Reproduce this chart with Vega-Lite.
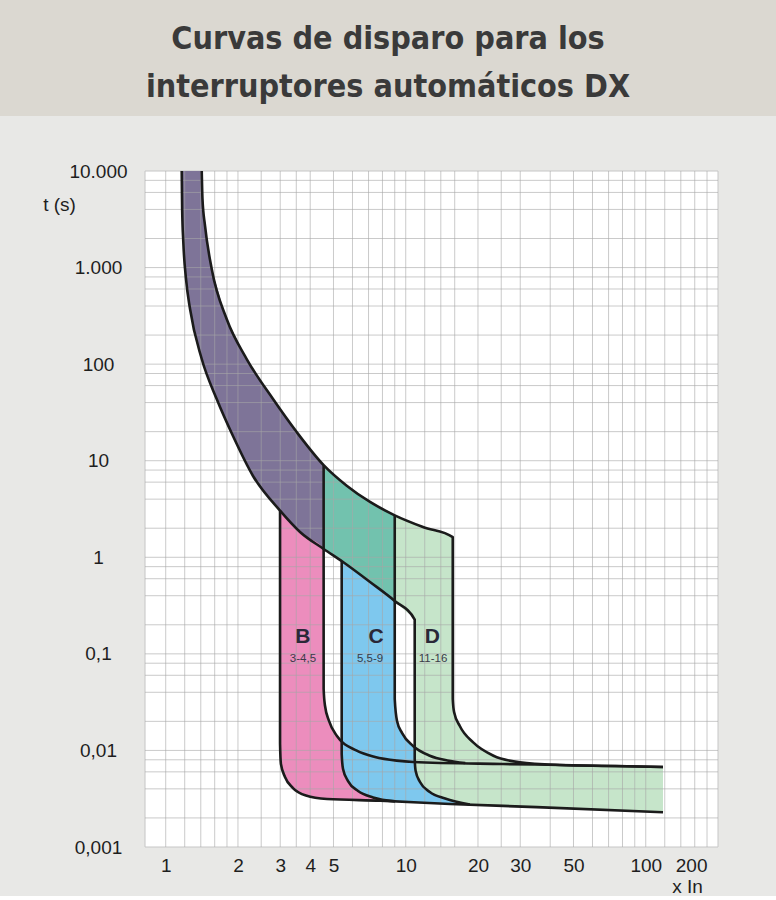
{
  "$schema": "https://vega.github.io/schema/vega-lite/v6.json",
  "background": "#e8e8e6",
  "padding": 0,
  "spacing": 46,
  "config": {"font": "Liberation Sans"},
  "datasets": {
    "title": [{"t": "Curvas de disparo para los\ninterruptores automáticos DX"}],
    "frame": [{"k": 1}],
    "purple": [
      {"x": 1.166, "top": 10000, "bot": 10000},
      {"x": 1.171, "top": 10000, "bot": 4043},
      {"x": 1.184, "top": 10000, "bot": 1841},
      {"x": 1.215, "top": 10000, "bot": 762},
      {"x": 1.263, "top": 10000, "bot": 372},
      {"x": 1.413, "top": 10000, "bot": 113},
      {"x": 1.423, "top": 5129, "bot": 108},
      {"x": 1.458, "top": 2716, "bot": 91.6},
      {"x": 1.555, "top": 966, "bot": 59.7},
      {"x": 1.631, "top": 649, "bot": 43.5},
      {"x": 1.795, "top": 293, "bot": 25.4},
      {"x": 1.907, "top": 217, "bot": 18.0},
      {"x": 2.175, "top": 113, "bot": 9.37},
      {"x": 2.311, "top": 89.9, "bot": 6.95},
      {"x": 2.8, "top": 43.5, "bot": 3.77},
      {"x": 2.995, "top": 34.5, "bot": 3.04},
      {"x": 3.514, "top": 19.8, "bot": 1.99},
      {"x": 3.627, "top": 18.0, "bot": 1.83},
      {"x": 4.55, "top": 9.0, "bot": 1.22}
    ],
    "teal": [
      {"x": 4.55, "top": 9.0, "bot": 1.22},
      {"x": 5.48, "top": 5.96, "bot": 0.894},
      {"x": 5.679, "top": 5.51, "bot": 0.837},
      {"x": 7.1, "top": 3.74, "bot": 0.555},
      {"x": 9.0, "top": 2.72, "bot": 0.353}
    ],
    "pink": [
      {"x": 2.995, "top": 3.04, "bot": 0.0117},
      {"x": 3.02, "top": 2.99, "bot": 0.00723},
      {"x": 3.14, "top": 2.69, "bot": 0.00531},
      {"x": 3.39, "top": 2.19, "bot": 0.00408},
      {"x": 3.627, "top": 1.83, "bot": 0.0037},
      {"x": 3.84, "top": 1.65, "bot": 0.00341},
      {"x": 4.55, "top": 1.22, "bot": 0.00318},
      {"x": 4.5501, "top": 0.0432, "bot": 0.00318},
      {"x": 4.61, "top": 0.029, "bot": 0.00317},
      {"x": 4.7, "top": 0.0241, "bot": 0.00314},
      {"x": 4.79, "top": 0.0202, "bot": 0.00313},
      {"x": 5.16, "top": 0.0142, "bot": 0.00311},
      {"x": 6.25, "top": 0.00993, "bot": 0.00306},
      {"x": 7.45, "top": 0.00855, "bot": 0.00301},
      {"x": 9.17, "top": 0.00784, "bot": 0.00296}
    ],
    "blue": [
      {"x": 5.41, "top": 0.91, "bot": 0.00919},
      {"x": 5.48, "top": 0.894, "bot": 0.00642},
      {"x": 5.75, "top": 0.818, "bot": 0.00482},
      {"x": 6.33, "top": 0.686, "bot": 0.0038},
      {"x": 7.1, "top": 0.555, "bot": 0.00336},
      {"x": 7.31, "top": 0.525, "bot": 0.00326},
      {"x": 9.0, "top": 0.353, "bot": 0.00297},
      {"x": 9.0001, "top": 0.0341, "bot": 0.00297},
      {"x": 9.2, "top": 0.0202, "bot": 0.00296},
      {"x": 9.66, "top": 0.0151, "bot": 0.00294},
      {"x": 10.73, "top": 0.0111, "bot": 0.00291},
      {"x": 12.6, "top": 0.00881, "bot": 0.00285},
      {"x": 14.9, "top": 0.00787, "bot": 0.0028},
      {"x": 17.7, "top": 0.0074, "bot": 0.00275}
    ],
    "green": [
      {"x": 9.0, "top": 2.72, "bot": 0.353},
      {"x": 10.0, "top": 2.44, "bot": 0.276},
      {"x": 10.9, "top": 2.24, "bot": 0.226},
      {"x": 10.9001, "top": 2.24, "bot": 0.00815},
      {"x": 11.0, "top": 2.21, "bot": 0.00612},
      {"x": 11.47, "top": 2.12, "bot": 0.00471},
      {"x": 11.8, "top": 2.06, "bot": 0.00438},
      {"x": 12.6, "top": 1.95, "bot": 0.00371},
      {"x": 14.6, "top": 1.72, "bot": 0.00318},
      {"x": 15.7, "top": 1.62, "bot": 0.00305},
      {"x": 15.7001, "top": 0.0341, "bot": 0.00305},
      {"x": 15.9, "top": 0.025, "bot": 0.00302},
      {"x": 16.8, "top": 0.0179, "bot": 0.00292},
      {"x": 18.5, "top": 0.0133, "bot": 0.00276},
      {"x": 19.1, "top": 0.0121, "bot": 0.00274},
      {"x": 23.2, "top": 0.00881, "bot": 0.00269},
      {"x": 29.9, "top": 0.00753, "bot": 0.00263},
      {"x": 35.1, "top": 0.00734, "bot": 0.00259},
      {"x": 43.9, "top": 0.00707, "bot": 0.00252},
      {"x": 70, "top": 0.00691, "bot": 0.00241},
      {"x": 118, "top": 0.00674, "bot": 0.00229}
    ],
    "gx": [
      {"v": 1}, {"v": 1.2}, {"v": 1.4}, {"v": 1.6}, {"v": 1.8}, {"v": 2}, {"v": 2.5}, {"v": 3}, {"v": 3.5}, {"v": 4},
      {"v": 5}, {"v": 6}, {"v": 7}, {"v": 8}, {"v": 9}, {"v": 10}, {"v": 12}, {"v": 14}, {"v": 16}, {"v": 20},
      {"v": 25}, {"v": 30}, {"v": 40}, {"v": 50}, {"v": 60}, {"v": 70}, {"v": 80}, {"v": 90}, {"v": 100},
      {"v": 120}, {"v": 140}, {"v": 160}, {"v": 180}
    ],
    "gy": [
      {"v": 0.002}, {"v": 0.004}, {"v": 0.006}, {"v": 0.008},
      {"v": 0.01}, {"v": 0.02}, {"v": 0.04}, {"v": 0.06}, {"v": 0.08},
      {"v": 0.1}, {"v": 0.2}, {"v": 0.4}, {"v": 0.6}, {"v": 0.8},
      {"v": 1}, {"v": 2}, {"v": 4}, {"v": 6}, {"v": 8},
      {"v": 10}, {"v": 20}, {"v": 40}, {"v": 60}, {"v": 80},
      {"v": 100}, {"v": 200}, {"v": 400}, {"v": 600}, {"v": 800},
      {"v": 1000}, {"v": 2000}, {"v": 4000}, {"v": 6000}, {"v": 8000}
    ],
    "lines": [
      {"id": "U", "i": 0, "x": 1.413, "y": 10000},
      {"id": "U", "i": 1, "x": 1.423, "y": 5129},
      {"id": "U", "i": 2, "x": 1.458, "y": 2716},
      {"id": "U", "i": 3, "x": 1.555, "y": 966},
      {"id": "U", "i": 4, "x": 1.795, "y": 293},
      {"id": "U", "i": 5, "x": 2.175, "y": 113},
      {"id": "U", "i": 6, "x": 2.8, "y": 43.5},
      {"id": "U", "i": 7, "x": 3.514, "y": 19.8},
      {"id": "U", "i": 8, "x": 4.55, "y": 9.0},
      {"id": "U", "i": 9, "x": 5.679, "y": 5.51},
      {"id": "U", "i": 10, "x": 7.1, "y": 3.74},
      {"id": "U", "i": 11, "x": 9.0, "y": 2.72},
      {"id": "U", "i": 12, "x": 11.8, "y": 2.06},
      {"id": "U", "i": 13, "x": 15.7, "y": 1.62},
      {"id": "U", "i": 14, "x": 15.7001, "y": 0.0341},
      {"id": "U", "i": 15, "x": 15.9, "y": 0.025},
      {"id": "U", "i": 16, "x": 16.8, "y": 0.0179},
      {"id": "U", "i": 17, "x": 19.1, "y": 0.0121},
      {"id": "U", "i": 18, "x": 23.2, "y": 0.00881},
      {"id": "U", "i": 19, "x": 29.9, "y": 0.00753},
      {"id": "U", "i": 20, "x": 43.9, "y": 0.00707},
      {"id": "U", "i": 21, "x": 70, "y": 0.00691},
      {"id": "U", "i": 22, "x": 118, "y": 0.00674},
      {"id": "L", "i": 0, "x": 1.166, "y": 10000},
      {"id": "L", "i": 1, "x": 1.171, "y": 4043},
      {"id": "L", "i": 2, "x": 1.184, "y": 1841},
      {"id": "L", "i": 3, "x": 1.215, "y": 762},
      {"id": "L", "i": 4, "x": 1.263, "y": 372},
      {"id": "L", "i": 5, "x": 1.413, "y": 113},
      {"id": "L", "i": 6, "x": 1.631, "y": 43.5},
      {"id": "L", "i": 7, "x": 1.907, "y": 18.0},
      {"id": "L", "i": 8, "x": 2.311, "y": 6.95},
      {"id": "L", "i": 9, "x": 2.995, "y": 3.04},
      {"id": "L", "i": 10, "x": 3.627, "y": 1.83},
      {"id": "L", "i": 11, "x": 4.55, "y": 1.22},
      {"id": "L", "i": 12, "x": 5.48, "y": 0.894},
      {"id": "L", "i": 13, "x": 7.1, "y": 0.555},
      {"id": "L", "i": 14, "x": 9.0, "y": 0.353},
      {"id": "L", "i": 15, "x": 10.9, "y": 0.226},
      {"id": "L", "i": 16, "x": 10.9001, "y": 0.00815},
      {"id": "L", "i": 17, "x": 11.0, "y": 0.00612},
      {"id": "L", "i": 18, "x": 11.47, "y": 0.00471},
      {"id": "L", "i": 19, "x": 12.6, "y": 0.00371},
      {"id": "L", "i": 20, "x": 14.6, "y": 0.00318},
      {"id": "L", "i": 21, "x": 18.5, "y": 0.00276},
      {"id": "BL", "i": 0, "x": 2.995, "y": 3.04},
      {"id": "BL", "i": 1, "x": 2.9951, "y": 0.0117},
      {"id": "BL", "i": 2, "x": 3.02, "y": 0.00723},
      {"id": "BL", "i": 3, "x": 3.14, "y": 0.00531},
      {"id": "BL", "i": 4, "x": 3.39, "y": 0.00408},
      {"id": "BL", "i": 5, "x": 3.84, "y": 0.00341},
      {"id": "BL", "i": 6, "x": 4.7, "y": 0.00314},
      {"id": "BL", "i": 7, "x": 7.82, "y": 0.00302},
      {"id": "BL", "i": 8, "x": 15.3, "y": 0.00279},
      {"id": "BL", "i": 9, "x": 35.1, "y": 0.00259},
      {"id": "BL", "i": 10, "x": 118, "y": 0.00229},
      {"id": "BR", "i": 0, "x": 4.55, "y": 9.0},
      {"id": "BR", "i": 1, "x": 4.5501, "y": 0.0432},
      {"id": "BR", "i": 2, "x": 4.61, "y": 0.029},
      {"id": "BR", "i": 3, "x": 4.79, "y": 0.0202},
      {"id": "BR", "i": 4, "x": 5.16, "y": 0.0142},
      {"id": "BR", "i": 5, "x": 6.25, "y": 0.00993},
      {"id": "BR", "i": 6, "x": 7.45, "y": 0.00855},
      {"id": "BR", "i": 7, "x": 9.17, "y": 0.00784},
      {"id": "BR", "i": 8, "x": 10.73, "y": 0.00759},
      {"id": "BR", "i": 9, "x": 25.4, "y": 0.00723},
      {"id": "BR", "i": 10, "x": 43.9, "y": 0.00707},
      {"id": "BR", "i": 11, "x": 118, "y": 0.00674},
      {"id": "CL", "i": 0, "x": 5.41, "y": 0.91},
      {"id": "CL", "i": 1, "x": 5.4101, "y": 0.00919},
      {"id": "CL", "i": 2, "x": 5.48, "y": 0.00642},
      {"id": "CL", "i": 3, "x": 5.75, "y": 0.00482},
      {"id": "CL", "i": 4, "x": 6.33, "y": 0.0038},
      {"id": "CL", "i": 5, "x": 7.31, "y": 0.00326},
      {"id": "CL", "i": 6, "x": 9.02, "y": 0.00297},
      {"id": "CR", "i": 0, "x": 9.0, "y": 2.72},
      {"id": "CR", "i": 1, "x": 9.0001, "y": 0.0341},
      {"id": "CR", "i": 2, "x": 9.2, "y": 0.0202},
      {"id": "CR", "i": 3, "x": 9.66, "y": 0.0151},
      {"id": "CR", "i": 4, "x": 10.73, "y": 0.0111},
      {"id": "CR", "i": 5, "x": 12.6, "y": 0.00881},
      {"id": "CR", "i": 6, "x": 14.9, "y": 0.00787},
      {"id": "CR", "i": 7, "x": 17.7, "y": 0.0074}
    ],
    "big": [
      {"x": 3.73, "y": 0.148, "t": "B"},
      {"x": 7.52, "y": 0.148, "t": "C"},
      {"x": 12.9, "y": 0.148, "t": "D"}
    ],
    "small": [
      {"x": 3.73, "y": 0.0885, "t": "3-4,5"},
      {"x": 7.1, "y": 0.0885, "t": "5,5-9"},
      {"x": 13.0, "y": 0.0885, "t": "11-16"}
    ]
  },
  "vconcat": [
    {
      "width": 776,
      "height": 116,
      "view": {"fill": "#dbd8d1", "stroke": null},
      "data": {"name": "title"},
      "mark": {
        "type": "text",
        "lineBreak": "\n",
        "lineHeight": 48,
        "fontSize": 32,
        "dy": -19,
        "font": "Liberation Sans Narrow, DejaVu Sans Condensed, Roboto, sans-serif",
        "fontWeight": "bold",
        "color": "#3a3a3a",
        "align": "center",
        "baseline": "middle"
      },
      "encoding": {"text": {"field": "t"}}
    },
    {
      "width": 718,
      "height": 676,
      "view": {"fill": null, "stroke": null},
      "layer": [
        {
          "data": {"name": "frame"},
          "mark": {"type": "rect", "fill": "#ffffff", "stroke": "#c6c6c6", "strokeWidth": 1},
          "encoding": {
            "x": {"datum": 0.82, "type": "quantitative", "scale": {"type": "log", "domain": [0.204, 200], "nice": false}},
            "x2": {"datum": 200},
            "y": {"datum": 0.001, "type": "quantitative", "scale": {"type": "log", "domain": [0.001, 10000], "nice": false}},
            "y2": {"datum": 10000}
          }
        },
        {
          "data": {"name": "purple"},
          "mark": {"type": "area", "color": "#7e7498", "interpolate": "monotone", "clip": true},
          "encoding": {
            "x": {
              "field": "x", "type": "quantitative",
              "scale": {"type": "log", "domain": [0.204, 200], "nice": false},
              "axis": {
                "values": [1, 2, 3, 4, 5, 10, 20, 30, 50, 100, 200],
                "labelExpr": "'' + datum.value",
                "grid": false, "ticks": false, "domain": false,
                "labelFont": "Liberation Sans", "labelFontSize": 19, "labelColor": "#1e1e1e",
                "labelPadding": 9, "labelOverlap": false, "labelFlush": true, "labelFlushOffset": -11,
                "title": "x In", "titleFont": "Liberation Sans", "titleFontSize": 19, "titleFontWeight": "normal",
                "titleColor": "#1e1e1e", "titleX": 687, "titleY": 39, "titleAlign": "center", "titleBaseline": "middle"
              }
            },
            "y": {
              "field": "top", "type": "quantitative",
              "scale": {"type": "log", "domain": [0.001, 10000], "nice": false},
              "axis": {
                "values": [0.001, 0.01, 0.1, 1, 10, 100, 1000, 10000],
                "labelExpr": "datum.value >= 9999 ? '10.000' : datum.value >= 999 ? '1.000' : datum.value >= 99 ? '100' : datum.value >= 9 ? '10' : datum.value >= 0.9 ? '1' : datum.value >= 0.09 ? '0,1' : datum.value >= 0.009 ? '0,01' : '0,001'",
                "grid": false, "ticks": false, "domain": false, "offset": -145,
                "labelFont": "Liberation Sans", "labelFontSize": 19, "labelColor": "#1e1e1e",
                "labelAlign": "center", "labelBaseline": "middle", "labelPadding": 47, "labelOverlap": false,
                "title": "t (s)", "titleFont": "Liberation Sans", "titleFontSize": 19, "titleFontWeight": "normal",
                "titleColor": "#1e1e1e", "titleAngle": 0, "titleX": -86, "titleY": 33, "titleAlign": "center", "titleBaseline": "middle"
              }
            },
            "y2": {"field": "bot"}
          }
        },
        {
          "data": {"name": "teal"},
          "mark": {"type": "area", "color": "#72c2ae", "interpolate": "monotone", "clip": true},
          "encoding": {
            "x": {"field": "x", "type": "quantitative", "scale": {"type": "log", "domain": [0.204, 200], "nice": false}},
            "y": {"field": "top", "type": "quantitative", "scale": {"type": "log", "domain": [0.001, 10000], "nice": false}},
            "y2": {"field": "bot"}
          }
        },
        {
          "data": {"name": "pink"},
          "mark": {"type": "area", "color": "#ec8dbd", "interpolate": "monotone", "clip": true},
          "encoding": {
            "x": {"field": "x", "type": "quantitative", "scale": {"type": "log", "domain": [0.204, 200], "nice": false}},
            "y": {"field": "top", "type": "quantitative", "scale": {"type": "log", "domain": [0.001, 10000], "nice": false}},
            "y2": {"field": "bot"}
          }
        },
        {
          "data": {"name": "blue"},
          "mark": {"type": "area", "color": "#7ec8ee", "interpolate": "monotone", "clip": true},
          "encoding": {
            "x": {"field": "x", "type": "quantitative", "scale": {"type": "log", "domain": [0.204, 200], "nice": false}},
            "y": {"field": "top", "type": "quantitative", "scale": {"type": "log", "domain": [0.001, 10000], "nice": false}},
            "y2": {"field": "bot"}
          }
        },
        {
          "data": {"name": "green"},
          "mark": {"type": "area", "color": "#c6e5ca", "interpolate": "monotone", "clip": true},
          "encoding": {
            "x": {"field": "x", "type": "quantitative", "scale": {"type": "log", "domain": [0.204, 200], "nice": false}},
            "y": {"field": "top", "type": "quantitative", "scale": {"type": "log", "domain": [0.001, 10000], "nice": false}},
            "y2": {"field": "bot"}
          }
        },
        {
          "data": {"name": "gx"},
          "mark": {"type": "rule", "color": "#a6a6a6", "opacity": 0.6, "strokeWidth": 1},
          "encoding": {
            "x": {"field": "v", "type": "quantitative", "scale": {"type": "log", "domain": [0.204, 200], "nice": false}}
          }
        },
        {
          "data": {"name": "gy"},
          "mark": {"type": "rule", "color": "#a6a6a6", "opacity": 0.6, "strokeWidth": 1},
          "encoding": {
            "y": {"field": "v", "type": "quantitative", "scale": {"type": "log", "domain": [0.001, 10000], "nice": false}},
            "x": {"datum": 0.82, "type": "quantitative", "scale": {"type": "log", "domain": [0.204, 200], "nice": false}},
            "x2": {"datum": 200}
          }
        },
        {
          "data": {"name": "lines"},
          "mark": {"type": "line", "color": "#1b1b1b", "strokeWidth": 2.6, "strokeJoin": "round", "interpolate": "monotone", "clip": true},
          "encoding": {
            "x": {"field": "x", "type": "quantitative", "scale": {"type": "log", "domain": [0.204, 200], "nice": false}},
            "y": {"field": "y", "type": "quantitative", "scale": {"type": "log", "domain": [0.001, 10000], "nice": false}},
            "detail": {"field": "id"},
            "order": {"field": "i", "type": "quantitative"}
          }
        },
        {
          "data": {"name": "big"},
          "mark": {"type": "text", "font": "Liberation Sans", "fontSize": 21, "fontWeight": "bold", "color": "#2a2838", "baseline": "middle"},
          "encoding": {
            "x": {"field": "x", "type": "quantitative", "scale": {"type": "log", "domain": [0.204, 200], "nice": false}},
            "y": {"field": "y", "type": "quantitative", "scale": {"type": "log", "domain": [0.001, 10000], "nice": false}},
            "text": {"field": "t"}
          }
        },
        {
          "data": {"name": "small"},
          "mark": {"type": "text", "font": "Liberation Sans", "fontSize": 11.5, "color": "#3a3a48", "baseline": "middle"},
          "encoding": {
            "x": {"field": "x", "type": "quantitative", "scale": {"type": "log", "domain": [0.204, 200], "nice": false}},
            "y": {"field": "y", "type": "quantitative", "scale": {"type": "log", "domain": [0.001, 10000], "nice": false}},
            "text": {"field": "t"}
          }
        }
      ]
    }
  ]
}
